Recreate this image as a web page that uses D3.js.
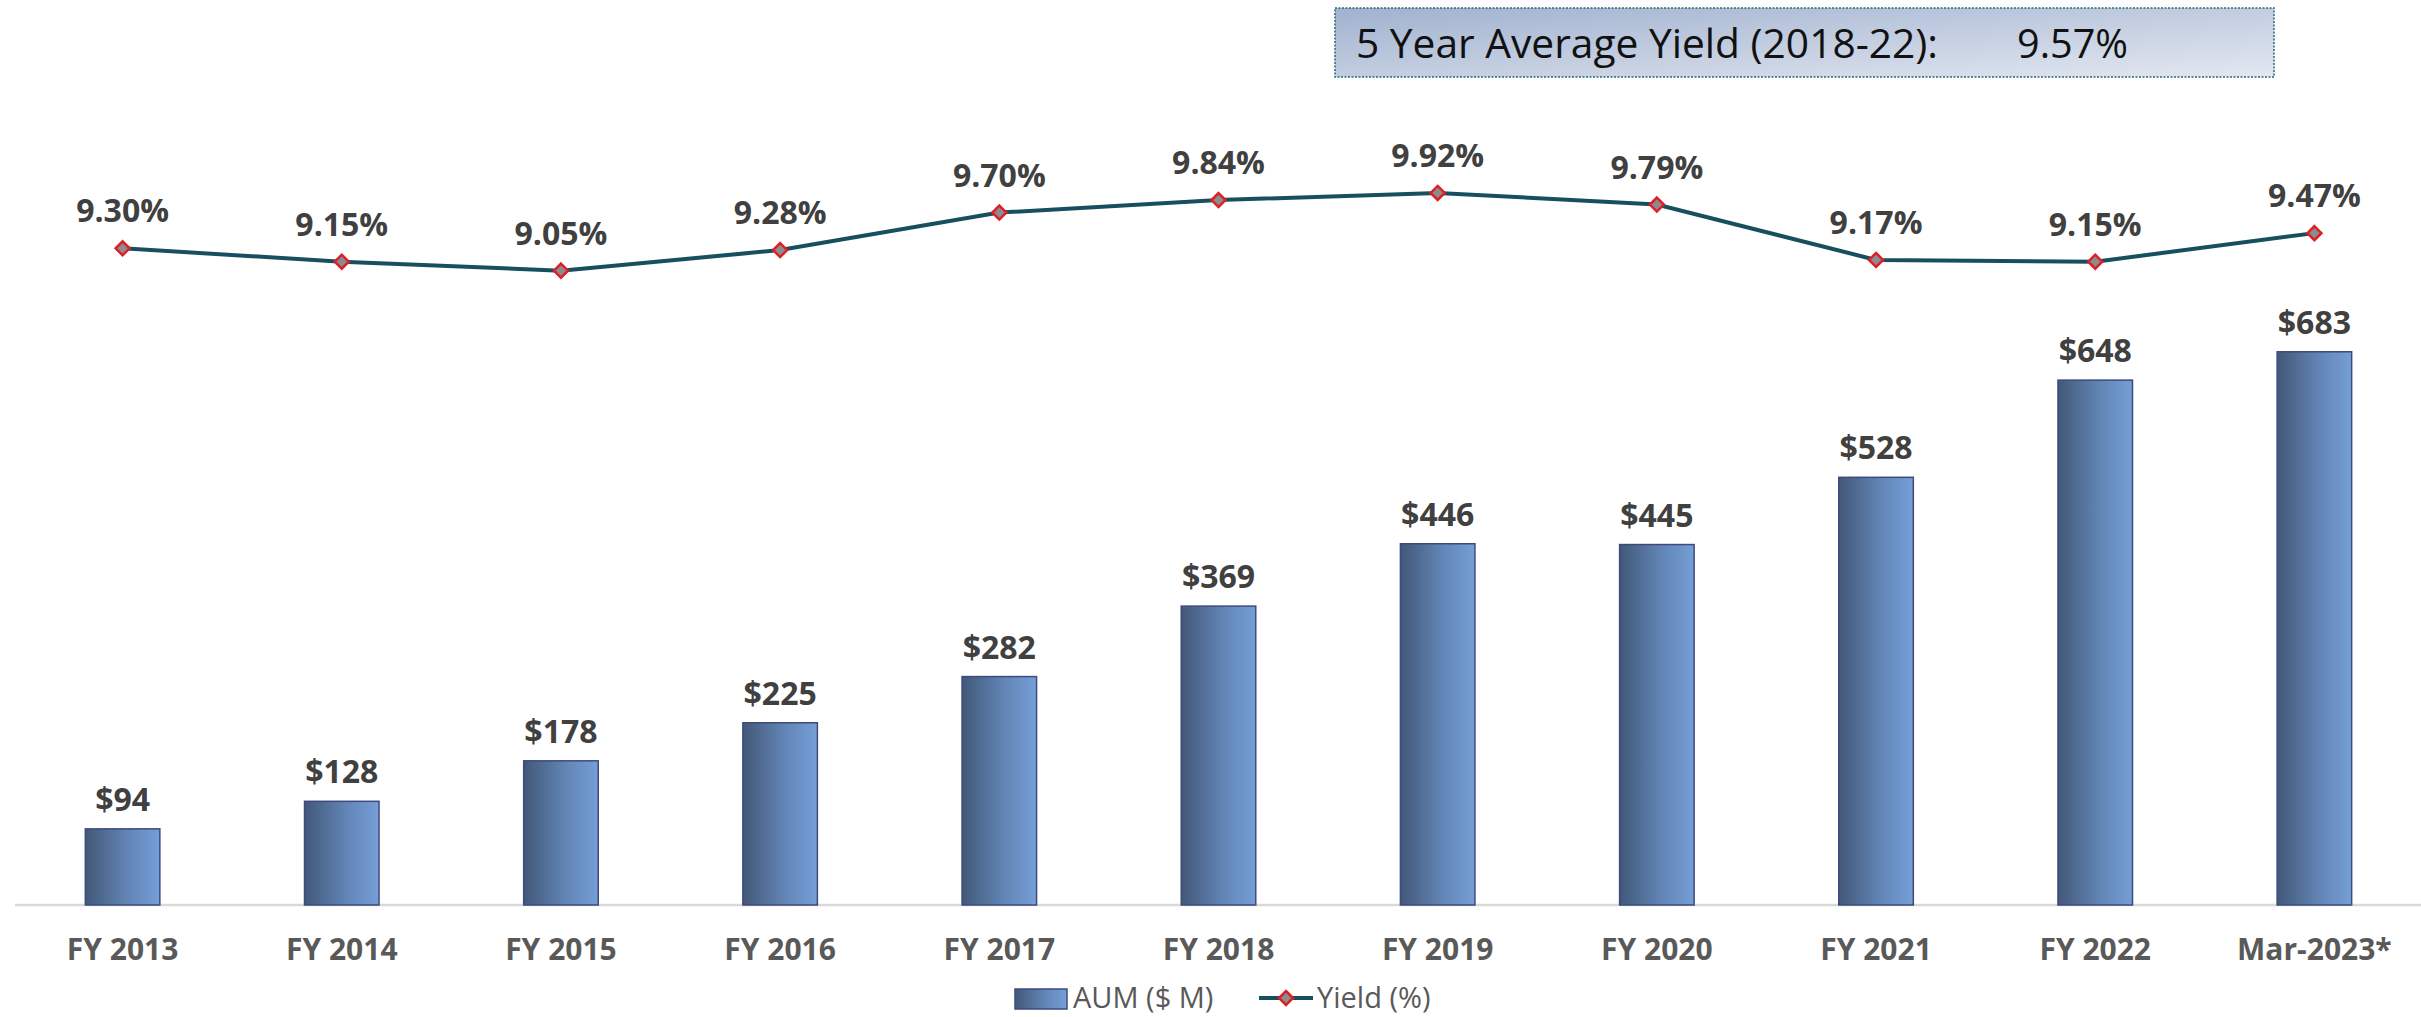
<!DOCTYPE html>
<html>
<head>
<meta charset="utf-8">
<script src="https://cdn.jsdelivr.net/npm/d3@7"></script>
<style>
  html, body { margin: 0; padding: 0; background: #fff; }
  svg { display: block; }
</style>
</head>
<body>
<div id="chart"></div>
<script>
// chart data
const categories = ["FY 2013", "FY 2014", "FY 2015", "FY 2016", "FY 2017", "FY 2018",
    "FY 2019", "FY 2020", "FY 2021", "FY 2022", "Mar-2023*"];
const aum = [94, 128, 178, 225, 282, 369, 446, 445, 528, 648, 683];
const yieldPct = [9.30, 9.15, 9.05, 9.28, 9.70, 9.84, 9.92, 9.79, 9.17, 9.15, 9.47];
const avgLabel = "5 Year Average Yield (2018-22):";
const avgValue = "9.57%";
const legendNames = ["AUM ($ M)", "Yield (%)"];

const width = 2421, height = 1017;
const labelFont = "'Open Sans', 'Noto Sans', sans-serif";

const svg = d3.select("#chart").append("svg")
    .attr("width", width)
    .attr("height", height);

const defs = svg.append("defs");

let barGrad = defs.append("linearGradient")
    .attr("id", "barGrad")
    .attr("x1", "0%").attr("x2", "100%")
    .attr("y1", "0%").attr("y2", "0%");
barGrad.append("stop").attr("offset", "0%").attr("stop-color", "#425878");
barGrad.append("stop").attr("offset", "55%").attr("stop-color", "#6184b4");
barGrad.append("stop").attr("offset", "100%").attr("stop-color", "#759fd8");

let boxGrad = defs.append("linearGradient")
    .attr("id", "boxGrad")
    .attr("x1", "0%").attr("x2", "100%")
    .attr("y1", "0%").attr("y2", "100%");
boxGrad.append("stop").attr("offset", "0%").attr("stop-color", "#a1b2cf");
boxGrad.append("stop").attr("offset", "100%").attr("stop-color", "#e3e8f1");

// scales
const x = d3.scaleBand()
    .domain(categories)
    .range([13, 2424])
    .paddingInner(0.66)
    .paddingOuter(0.33);

const baseY = 905;
const yBar = d3.scaleLinear()
    .domain([0, 800])
    .range([baseY, baseY - 800 * 0.81]);

const yLine = d3.scaleLinear()
    .domain([8, 10])
    .range([364.4, 185.8]);

// axis baseline
svg.append("line")
    .attr("x1", 15).attr("x2", width)
    .attr("y1", baseY).attr("y2", baseY)
    .attr("stroke", "#d9d9d9")
    .attr("stroke-width", 2.5);

// bars
svg.selectAll(".bar")
    .data(aum)
    .join("rect")
    .attr("class", "bar")
    .attr("x", (d, i) => x(categories[i]))
    .attr("y", d => yBar(d))
    .attr("width", x.bandwidth())
    .attr("height", d => baseY - yBar(d))
    .attr("fill", "url(#barGrad)")
    .attr("stroke", "#3e4a7c")
    .attr("stroke-width", 1.5);

svg.selectAll(".barLabel")
    .data(aum)
    .join("text")
    .attr("class", "barLabel")
    .attr("x", (d, i) => x(categories[i]) + x.bandwidth() / 2)
    .attr("y", d => yBar(d) - 18)
    .attr("text-anchor", "middle")
    .style("font-family", labelFont)
    .style("font-weight", "bold")
    .style("font-size", "32px")
    .attr("fill", "#404040")
    .text(d => "$" + d);

// x labels
svg.selectAll(".xLabel")
    .data(categories)
    .join("text")
    .attr("class", "xLabel")
    .attr("x", d => x(d) + x.bandwidth() / 2)
    .attr("y", 960)
    .attr("text-anchor", "middle")
    .style("font-family", labelFont)
    .style("font-weight", "bold")
    .style("font-size", "30px")
    .attr("fill", "#595959")
    .text(d => d);

// yield line
const cx = (i) => x(categories[i]) + x.bandwidth() / 2;
const line = d3.line()
    .x((d, i) => cx(i))
    .y(d => yLine(d));

svg.append("path")
    .datum(yieldPct)
    .attr("d", line)
    .attr("fill", "none")
    .attr("stroke", "#174f5e")
    .attr("stroke-width", 4);

const diamond = (px, py, r) => `M${px},${py - r}L${px + r},${py}L${px},${py + r}L${px - r},${py}Z`;

svg.selectAll(".marker")
    .data(yieldPct)
    .join("path")
    .attr("class", "marker")
    .attr("d", (d, i) => diamond(cx(i), yLine(d), 7))
    .attr("fill", "#8c8c8c")
    .attr("stroke", "#dd2027")
    .attr("stroke-width", 2.5);

svg.selectAll(".yieldLabel")
    .data(yieldPct)
    .join("text")
    .attr("class", "yieldLabel")
    .attr("x", (d, i) => cx(i))
    .attr("y", d => yLine(d) - 26)
    .attr("text-anchor", "middle")
    .style("font-family", labelFont)
    .style("font-weight", "bold")
    .style("font-size", "32px")
    .attr("fill", "#404040")
    .text(d => d.toFixed(2) + "%");

// average yield box
svg.append("rect")
    .attr("x", 1335).attr("y", 8)
    .attr("width", 939).attr("height", 69)
    .attr("fill", "url(#boxGrad)")
    .attr("stroke", "#2c6677")
    .attr("stroke-width", 1.5)
    .attr("stroke-dasharray", "2,1.5");

svg.append("text")
    .attr("x", 1356).attr("y", 58)
    .attr("textLength", 582)
    .attr("lengthAdjust", "spacingAndGlyphs")
    .style("font-family", "'Liberation Sans Narrow', 'Open Sans', sans-serif")
    .style("font-size", "40px")
    .attr("fill", "#111")
    .text(avgLabel);

svg.append("text")
    .attr("x", 2017).attr("y", 58)
    .attr("textLength", 111)
    .attr("lengthAdjust", "spacingAndGlyphs")
    .style("font-family", "'Liberation Sans Narrow', 'Open Sans', sans-serif")
    .style("font-size", "40px")
    .attr("fill", "#111")
    .text(avgValue);

// legend
const legend = svg.append("g");
legend.append("rect")
    .attr("x", 1015).attr("y", 989)
    .attr("width", 52).attr("height", 20)
    .attr("fill", "url(#barGrad)")
    .attr("stroke", "#3e4a7c")
    .attr("stroke-width", 1.5);
legend.append("text")
    .attr("x", 1073).attr("y", 1008)
    .style("font-family", labelFont)
    .style("font-size", "29px")
    .attr("fill", "#595959")
    .text(legendNames[0]);

legend.append("line")
    .attr("x1", 1259).attr("x2", 1313)
    .attr("y1", 998).attr("y2", 998)
    .attr("stroke", "#174f5e")
    .attr("stroke-width", 4);
legend.append("path")
    .attr("d", diamond(1286, 998, 7))
    .attr("fill", "#8c8c8c")
    .attr("stroke", "#dd2027")
    .attr("stroke-width", 2.5);
legend.append("text")
    .attr("x", 1317).attr("y", 1008)
    .style("font-family", labelFont)
    .style("font-size", "29px")
    .attr("fill", "#595959")
    .text(legendNames[1]);
</script>
</body>
</html>
